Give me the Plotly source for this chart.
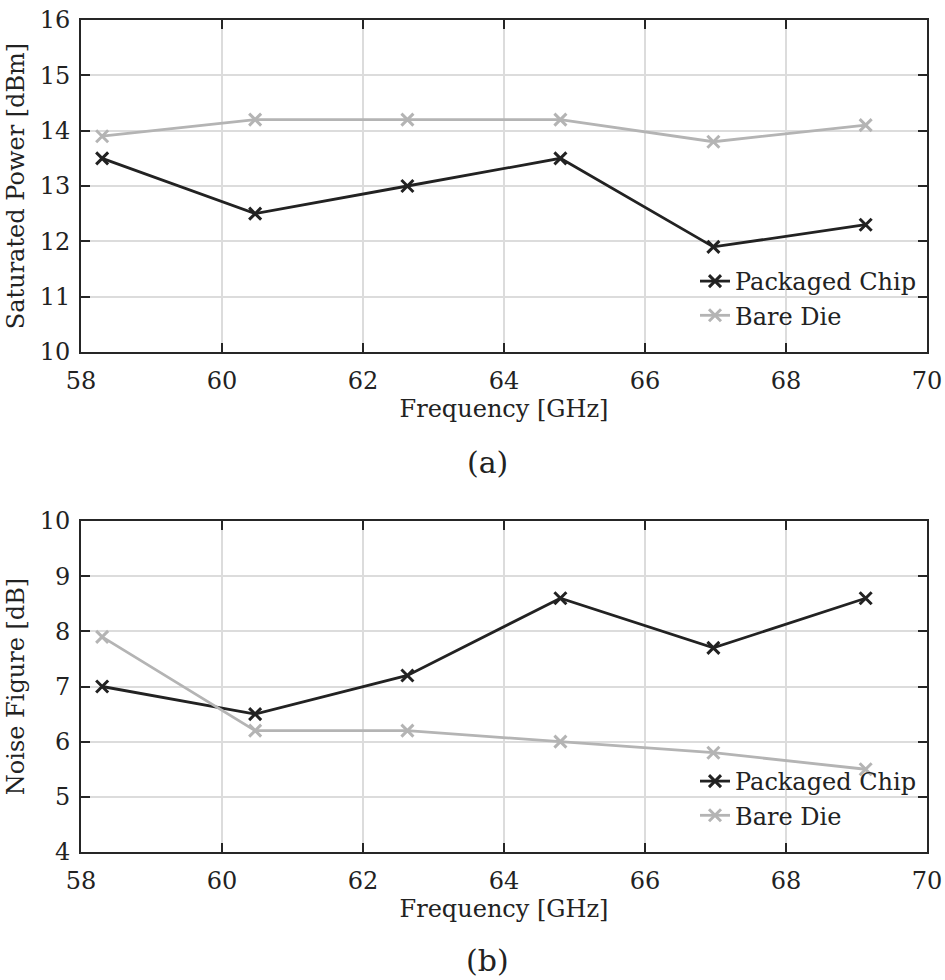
import plotly.graph_objects as go

freq = [58.3, 60.47, 62.63, 64.8, 66.97, 69.13]
psat_packaged = [13.5, 12.5, 13.0, 13.5, 11.9, 12.3]
psat_bare = [13.9, 14.2, 14.2, 14.2, 13.8, 14.1]
nf_packaged = [7.0, 6.5, 7.2, 8.6, 7.7, 8.6]
nf_bare = [7.9, 6.2, 6.2, 6.0, 5.8, 5.5]

x_ticks = [58, 60, 62, 64, 66, 68, 70]
psat_ticks = [10, 11, 12, 13, 14, 15, 16]
nf_ticks = [4, 5, 6, 7, 8, 9, 10]

BLACK = "#222222"
GRAY = "#b4b4b4"
FONT = "DejaVu Serif"
FS = 24

W, H = 945, 980

def px_x(p):
    return p / W

def px_y(p):
    return 1 - p / H

fig = go.Figure()

def add(x, y, name, color, xa, ya, legend, show=True):
    fig.add_trace(go.Scatter(
        x=x, y=y, name=name, mode="lines+markers",
        line=dict(color=color, width=2.8),
        marker=dict(symbol="x-thin", size=12, line=dict(color=color, width=3), color=color),
        xaxis=xa, yaxis=ya, legend=legend, showlegend=show,
    ))

add(freq, psat_packaged, "Packaged Chip", BLACK, "x", "y", "legend")
add(freq, psat_bare, "Bare Die", GRAY, "x", "y", "legend")
add(freq, nf_packaged, "Packaged Chip", BLACK, "x2", "y2", "legend2")
add(freq, nf_bare, "Bare Die", GRAY, "x2", "y2", "legend2")

axis_common = dict(
    showline=True, linecolor="#262626", linewidth=2, mirror="ticks",
    ticks="inside", ticklen=9, tickwidth=1.5, tickcolor="#262626",
    showgrid=True, gridcolor="#dcdcdc", gridwidth=1.5,
    zeroline=False, automargin=False, ticklabeloverflow="allow",
    tickfont=dict(family=FONT, size=FS, color="#222222"),
)

xdom = [px_x(81), px_x(927)]

fig.update_layout(
    width=W, height=H,
    margin=dict(l=0, r=0, t=0, b=0, autoexpand=False),
    paper_bgcolor="white", plot_bgcolor="white",
    font=dict(family=FONT, size=FS, color="#222222"),
    xaxis=dict(axis_common, domain=xdom, anchor="y", range=[58, 70], tickvals=x_ticks,
               ticklabelstandoff=6,
               title=dict(text="Frequency [GHz]", font=dict(family=FONT, size=FS), standoff=4)),
    yaxis=dict(axis_common, domain=[px_y(352), px_y(20)], anchor="x", range=[10, 16], tickvals=psat_ticks,
               ticklabelstandoff=4,
               title=dict(text="Saturated Power [dBm]", font=dict(family=FONT, size=FS), standoff=8)),
    xaxis2=dict(axis_common, domain=xdom, anchor="y2", range=[58, 70], tickvals=x_ticks,
                ticklabelstandoff=6,
                title=dict(text="Frequency [GHz]", font=dict(family=FONT, size=FS), standoff=4)),
    yaxis2=dict(axis_common, domain=[px_y(852), px_y(521)], anchor="x2", range=[4, 10], tickvals=nf_ticks,
                ticklabelstandoff=4,
                title=dict(text="Noise Figure [dB]", font=dict(family=FONT, size=FS), standoff=8)),
    legend=dict(x=px_x(922), y=px_y(338), xanchor="right", yanchor="bottom",
                bgcolor="rgba(0,0,0,0)", font=dict(family=FONT, size=FS), tracegroupgap=0),
    legend2=dict(x=px_x(922), y=px_y(838), xanchor="right", yanchor="bottom",
                 bgcolor="rgba(0,0,0,0)", font=dict(family=FONT, size=FS), tracegroupgap=0),
    annotations=[
        dict(text="(a)", x=px_x(487), y=px_y(462), xref="paper", yref="paper",
             showarrow=False, font=dict(family=FONT, size=30), xanchor="center", yanchor="middle"),
        dict(text="(b)", x=px_x(487), y=px_y(960), xref="paper", yref="paper",
             showarrow=False, font=dict(family=FONT, size=30), xanchor="center", yanchor="middle"),
    ],
)

fig.write_html(
    "out.html",
    config={"displayModeBar": False},
    post_script="document.body.style.margin='0';document.body.style.overflow='hidden';",
)
